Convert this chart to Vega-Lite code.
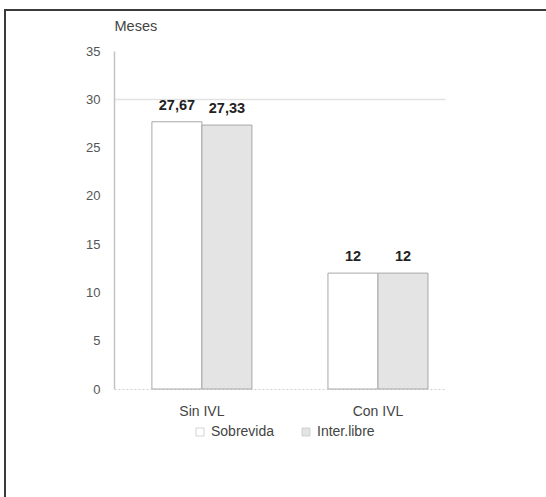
{
  "$schema": "https://vega.github.io/schema/vega-lite/v6.json",
  "autosize": "none",
  "padding": {"left": 5, "top": 10, "right": -19, "bottom": -23},
  "width": 560,
  "height": 510,
  "config": {
    "font": "Liberation Sans",
    "view": {"stroke": "#3a3a3a", "strokeWidth": 2},
    "locale": {"number": {"decimal": ",", "thousands": ".", "grouping": [3], "currency": ["", " €"]}}
  },
  "data": {
    "values": [
      {"grupo": "Sin IVL", "serie": "Sobrevida", "meses": 27.67},
      {"grupo": "Sin IVL", "serie": "Inter.libre", "meses": 27.33},
      {"grupo": "Con IVL", "serie": "Sobrevida", "meses": 12},
      {"grupo": "Con IVL", "serie": "Inter.libre", "meses": 12}
    ]
  },
  "encoding": {
    "x": {
      "field": "grupo",
      "type": "nominal",
      "sort": ["Sin IVL", "Con IVL"],
      "scale": {"range": [109, 440], "paddingInner": 0.432, "paddingOuter": 0.156, "align": 0.69},
      "axis": {
        "title": null,
        "offset": -131,
        "ticks": false,
        "labelPadding": 15,
        "labelAngle": 0,
        "labelFontSize": 14,
        "labelColor": "#444",
        "domainColor": "#d0d0d0",
        "domainDash": [2, 2],
        "grid": false
      }
    },
    "xOffset": {
      "field": "serie",
      "type": "nominal",
      "sort": ["Sobrevida", "Inter.libre"],
      "scale": {"paddingInner": 0, "paddingOuter": 0}
    },
    "y": {
      "field": "meses",
      "type": "quantitative",
      "scale": {"domain": [0, 35], "range": [379, 41], "nice": false},
      "axis": {
        "title": "Meses",
        "titleAngle": 0,
        "titleAlign": "left",
        "titleBaseline": "alphabetic",
        "titleX": 0,
        "titleY": 20,
        "titleFontSize": 14.5,
        "titleFontWeight": "normal",
        "titleColor": "#444",
        "offset": -109,
        "values": [0, 5, 10, 15, 20, 25, 30, 35],
        "ticks": false,
        "labelPadding": 14,
        "labelFontSize": 13,
        "labelColor": "#555",
        "domainColor": "#c4c4c4",
        "domainWidth": 1.5,
        "grid": true,
        "gridColor": "#e2e2e2",
        "gridWidth": 1.5,
        "gridOpacity": {"condition": {"test": "datum.value === 30", "value": 1}, "value": 0}
      }
    }
  },
  "layer": [
    {
      "mark": {"type": "bar", "stroke": "#a8a8a8", "strokeWidth": 1},
      "encoding": {
        "fill": {
          "field": "serie",
          "type": "nominal",
          "sort": ["Sobrevida", "Inter.libre"],
          "scale": {"domain": ["Sobrevida", "Inter.libre"], "range": ["#ffffff", "#e4e4e4"]},
          "legend": {
            "title": null,
            "orient": "none",
            "legendX": 188,
            "legendY": 415,
            "direction": "horizontal",
            "symbolType": "square",
            "symbolSize": 64,
            "symbolStrokeColor": "#c8c8c8",
            "symbolStrokeWidth": 0.8,
            "labelFontSize": 14,
            "labelColor": "#444",
            "labelOffset": 4,
            "columnPadding": 24
          }
        }
      }
    },
    {
      "mark": {"type": "text", "baseline": "alphabetic", "dy": -12, "fontSize": 14.5, "fontWeight": "bold", "color": "#222"},
      "encoding": {
        "text": {"field": "meses", "type": "quantitative", "format": "~g"}
      }
    }
  ]
}
